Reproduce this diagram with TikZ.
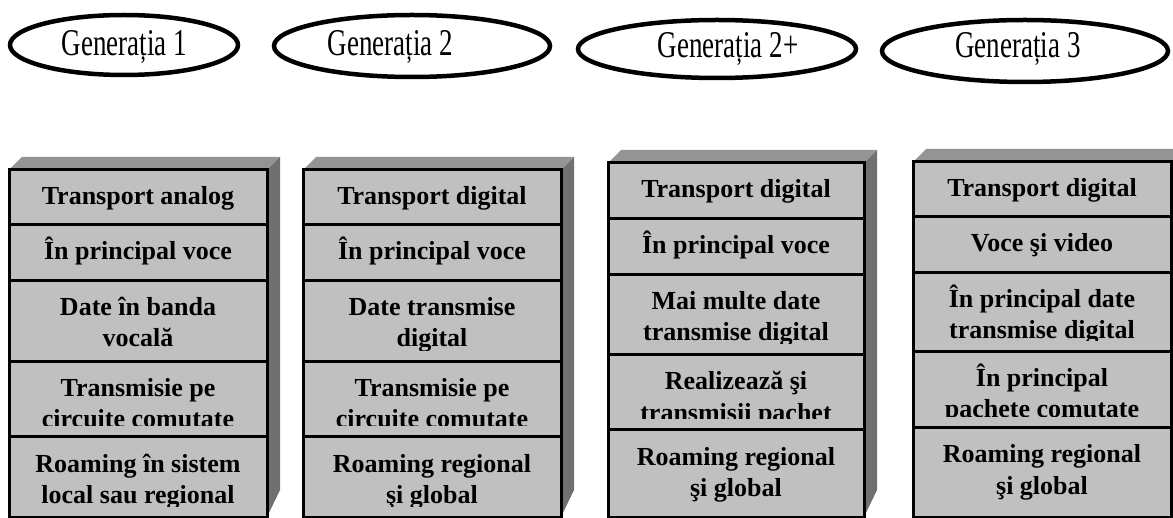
\documentclass[tikz,border=0pt]{standalone}
\usepackage{fontspec}
\usepackage{graphicx}
\setmainfont{Liberation Serif}
\usetikzlibrary{shapes.geometric}

\definecolor{cellgray}{RGB}{192,192,192}
\definecolor{topgray}{RGB}{148,148,148}
\definecolor{sidegray}{RGB}{112,112,112}

\tikzset{
  genoval/.style={draw=black, line width=4.5pt, ellipse, inner sep=0pt},
  gentext/.style={font=\fontsize{27}{30}\selectfont, anchor=base, inner sep=0pt},
  celltext/.style={font=\bfseries\fontsize{26}{30}\selectfont, anchor=base, inner sep=0pt},
  cellframe/.style={draw=black, line width=3pt},
}

% tall header lettering
\newcommand\tall[1]{\scalebox{1}[1.4]{#1}}

% 3-D slab behind a column: top and right faces
% #1 x left, #2 x right, #3 y top, #4 y bottom
\newcommand\slab[4]{%
  \fill[topgray] (#1,#3) -- ++(13,-13) -- ({#2+13},{#3-13}) -- (#2,#3) -- cycle;
  \fill[sidegray] (#2,#3) -- ({#2+13},{#3-13}) -- ({#2+13},{#4-27}) -- (#2,#4) -- cycle;
}

% one-line cell: #1 name, #2 x0, #3 x1, #4 y0, #5 y1, #6 text
\newcommand\cellone[6]{%
  \fill[cellgray] (#2,#4) rectangle (#3,#5);
  \begin{scope}
    \clip (#2,#4) rectangle (#3,{#5-11});
    \node[celltext] (#1) at ({(#2+#3)/2},{#4+35}) {#6};
  \end{scope}
}

% two-line cell: #1 name, #2 x0, #3 x1, #4 y0, #5 y1, #6 first line, #7 second line
\newcommand\celltwo[7]{%
  \fill[cellgray] (#2,#4) rectangle (#3,#5);
  \begin{scope}
    \clip (#2,#4) rectangle (#3,{#5-11});
    \node[celltext] (#1a) at ({(#2+#3)/2},{#4+35}) {#6};
    \node[celltext] (#1b) at ({(#2+#3)/2},{#4+66}) {#7};
  \end{scope}
}

% frame and row dividers of a column: #1 x0, #2 x1, #3 top, #4..#7 dividers, #8 bottom
\newcommand\colframe[8]{%
  \draw[cellframe] (#1,#3) rectangle (#2,#8);
  \foreach \yy in {#4,#5,#6,#7} \draw[cellframe] (#1,\yy) -- (#2,\yy);
}

\begin{document}
\begin{tikzpicture}[x=1pt,y=-1pt]
  \useasboundingbox (0,0) rectangle (1173,518);
  \clip (0,0) rectangle (1173,518);

  % generation headers
  \node[genoval, minimum width=228, minimum height=60] (g1) at (124,45) {};
  \node[gentext] (t1) at (124.5,56) {\tall{Generația 1}};
  \node[genoval, minimum width=276, minimum height=62] (g2) at (412,46) {};
  \node[gentext] (t2) at (390.5,56) {\tall{Generația 2}};
  \node[genoval, minimum width=278, minimum height=58] (g3) at (717,49) {};
  \node[gentext] (t3) at (728,58) {\tall{Generația 2+}};
  \node[genoval, minimum width=286, minimum height=62] (g4) at (1025,51) {};
  \node[gentext] (t4) at (1018,58) {\tall{Generația 3}};

  % column 1
  \slab{9}{267}{170}{517}
  \cellone{a1}{9}{267}{170}{225}{Transport analog}
  \cellone{a2}{9}{267}{225}{281}{În principal voce}
  \celltwo{a3}{9}{267}{281}{362}{Date în banda}{vocală}
  \celltwo{a4}{9}{267}{362}{437}{Transmisie pe}{circuite comutate}
  \celltwo{a5}{9}{267}{437}{517}{Roaming în sistem}{local sau regional}
  \colframe{9}{267}{170}{225}{281}{362}{437}{517}

  % column 2
  \slab{303}{561}{170}{517}
  \cellone{b1}{303}{561}{170}{225}{Transport digital}
  \cellone{b2}{303}{561}{225}{281}{În principal voce}
  \celltwo{b3}{303}{561}{281}{362}{Date transmise}{digital}
  \celltwo{b4}{303}{561}{362}{437}{Transmisie pe}{circuite comutate}
  \celltwo{b5}{303}{561}{437}{517}{Roaming regional}{şi global}
  \colframe{303}{561}{170}{225}{281}{362}{437}{517}

  % column 3
  \slab{608}{864}{163}{517}
  \cellone{c1}{608}{864}{163}{219}{Transport digital}
  \cellone{c2}{608}{864}{219}{275}{În principal voce}
  \celltwo{c3}{608}{864}{275}{355}{Mai multe date}{transmise digital}
  \celltwo{c4}{608}{864}{355}{430}{Realizează şi}{transmisii pachet}
  \celltwo{c5}{608}{864}{430}{517}{Roaming regional}{şi global}
  \colframe{608}{864}{163}{219}{275}{355}{430}{517}

  % column 4
  \slab{913}{1171}{162}{517}
  \cellone{d1}{913}{1171}{162}{217}{Transport digital}
  \cellone{d2}{913}{1171}{217}{273}{Voce şi video}
  \celltwo{d3}{913}{1171}{273}{352}{În principal date}{transmise digital}
  \celltwo{d4}{913}{1171}{352}{428}{În principal}{pachete comutate}
  \celltwo{d5}{913}{1171}{428}{517}{Roaming regional}{şi global}
  \colframe{913}{1171}{162}{217}{273}{352}{428}{517}
\end{tikzpicture}
\end{document}
